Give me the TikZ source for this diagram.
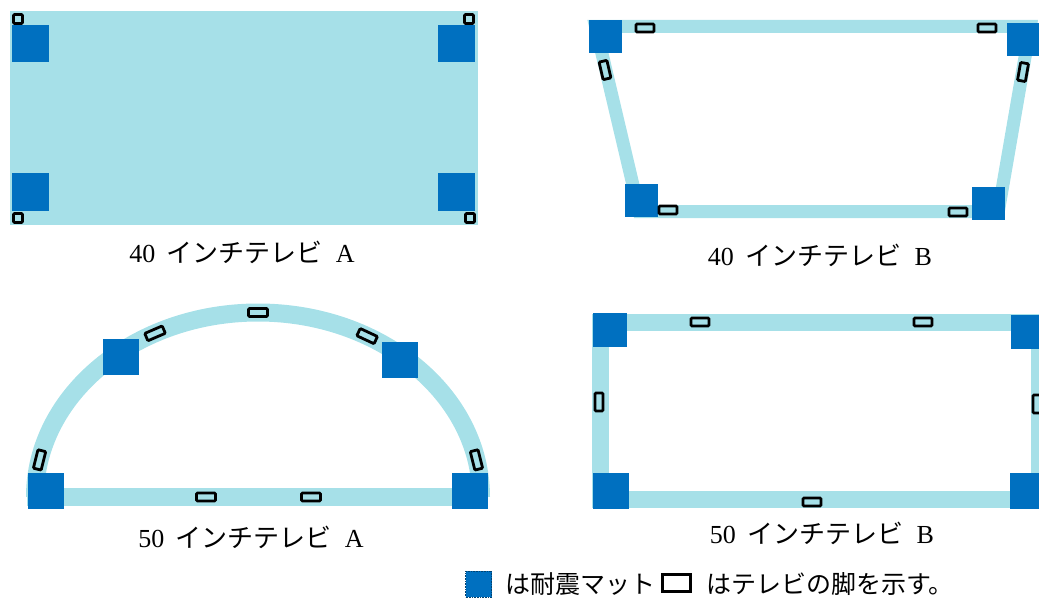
\documentclass[tikz,border=0pt]{standalone}
\usepackage{fontspec}
\setmainfont{Liberation Serif}
\newfontfamily\jfont{Noto Sans CJK JP}
\usetikzlibrary{calc}

\definecolor{bandblue}{RGB}{166,224,232}
\definecolor{matblue}{RGB}{0,112,192}

\tikzset{
  band/.style={draw=bandblue, line width=13pt, line join=miter},
  mat/.style={fill=matblue, inner sep=0pt, minimum size=#1},
  mat/.default=34pt,
  foot/.style={draw=black, fill=bandblue, line width=2.8pt, inner sep=0pt,
    minimum width=18pt, minimum height=8pt, rounded corners=1pt},
  cornerfoot/.style={draw=black, fill=bandblue, line width=2.8pt, inner sep=0pt,
    minimum size=9pt, rounded corners=1pt},
  tvname/.style={inner sep=0pt, font=\fontsize{26}{29}\selectfont},
  keytext/.style={inner sep=0pt, font=\fontsize{25}{28}\selectfont}
}

\begin{document}
\begin{tikzpicture}[x=1pt,y=-1pt,>=latex]
  \useasboundingbox (0,0) rectangle (1039,599);
  \clip (0,0) rectangle (1039,599);

  % 40インチテレビA
  \fill[bandblue] (10,11) rectangle (478,225);
  \foreach \x/\y [count=\i] in {30/43.5, 456/43.5, 30/192, 456.5/192} {
    \node[mat=37pt] (aam\i) at (\x,\y) {};
  }
  \foreach \x/\y [count=\i] in {18/19, 469/19, 18/218, 470/218} {
    \node[cornerfoot] (aaf\i) at (\x,\y) {};
  }
  \node[tvname] (aat) at (242,252) {40\hspace{0.45em}{\jfont インチテレビ}\hspace{0.5em}A};

  % 40インチテレビB（台形）
  \draw[band] (595.6,26.5) -- (1030.3,26.5) -- (998.3,211.5) -- (639.2,211.5) -- cycle;
  \foreach \x/\y [count=\i] in {605/36.5, 1023.5/39.5, 641.5/200.5, 988/203.5} {
    \node[mat=33pt] (abm\i) at (\x,\y) {};
  }
  \foreach \x/\y/\r [count=\i] in {645/28/0, 987/28/0, 605/70/103, 1023/72/80, 668/210/0, 958/212/0} {
    \node[foot, rotate=\r] (abf\i) at (\x,\y) {};
  }
  \node[tvname] (abt) at (820,255) {40\hspace{0.45em}{\jfont インチテレビ}\hspace{0.5em}B};

  % 50インチテレビA（半楕円）
  \draw[band, line width=18pt] (35,497) arc[start angle=180, end angle=360, x radius=223, y radius=184.5];
  \draw[band, line width=18pt] (27,497) -- (488,497);
  \foreach \x/\y [count=\i] in {121/357, 400/359.5, 46/491, 470/491} {
    \node[mat=36pt] (bam\i) at (\x,\y) {};
  }
  \foreach \t [count=\i] in {90, 117.5, 60.7, 168.4, 11.6} {
    \node[foot, minimum width=19pt, rotate={atan2(184.5*cos(\t), -223*sin(\t))}]
      (baf\i) at ({258+223*cos(\t)}, {497-184.5*sin(\t)}) {};
  }
  \node[foot, minimum width=19pt] (baf6) at (206,497) {};
  \node[foot, minimum width=19pt] (baf7) at (311,497) {};
  \node[tvname] (bat) at (251,537) {50\hspace{0.45em}{\jfont インチテレビ}\hspace{0.5em}A};

  % 50インチテレビB（長方形）
  \draw[band, line width=17pt] (600.5,322.5) rectangle (1039,499.5);
  \foreach \x/\y/\s [count=\i] in {610/330/34, 1028/332/34, 611/490.5/36, 1028/490.5/36} {
    \node[mat=\s pt] (bbm\i) at (\x,\y) {};
  }
  \foreach \x/\y/\r [count=\i] in {700/322/0, 923/322/0, 599/402/90, 1037/404/90, 812/502/0} {
    \node[foot, rotate=\r] (bbf\i) at (\x,\y) {};
  }
  \node[tvname] (bbt) at (822,533) {50\hspace{0.45em}{\jfont インチテレビ}\hspace{0.5em}B};

  % 凡例
  \node[mat=26pt, draw=matblue!60!black, densely dotted, line width=0.6pt] (keymat) at (478.5,584) {};
  \node[keytext, anchor=west] (keymattext) at (505,584) {\jfont は耐震マット};
  \node[draw=black, line width=3.2pt, inner sep=0pt, minimum width=28pt, minimum height=17pt] (keyfoot) at (676.5,583) {};
  \node[keytext, anchor=west] (keyfoottext) at (706,584) {\jfont はテレビの脚を示す。};
\end{tikzpicture}
\end{document}
